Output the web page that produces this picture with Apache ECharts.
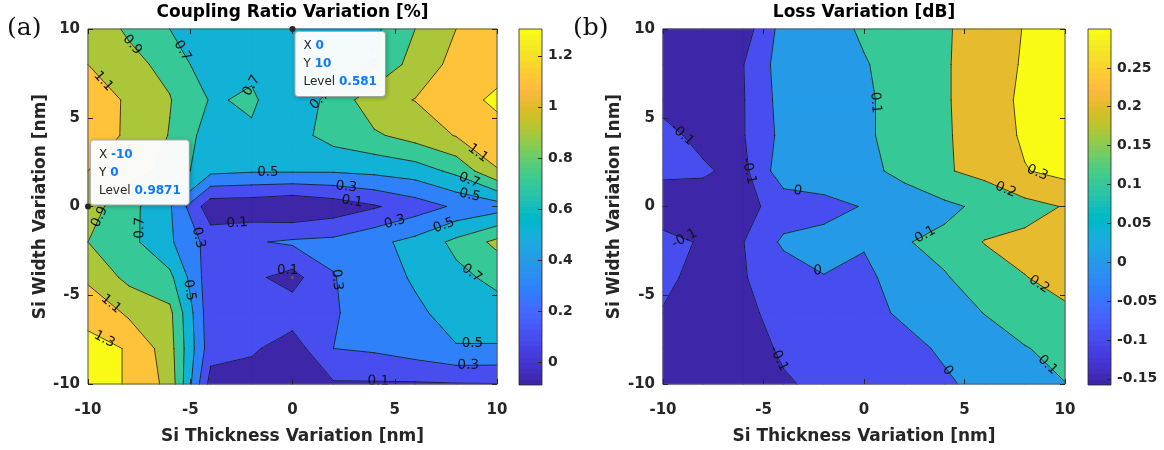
<!DOCTYPE html>
<html>
<head>
<meta charset="utf-8">
<script src="https://cdn.jsdelivr.net/npm/echarts@6.0.0/dist/echarts.min.js"></script>
<style>
html,body{margin:0;padding:0;background:#ffffff;}
#chart{width:1164px;height:450px;}
</style>
</head>
<body>
<div id="chart"></div>
<script>
// ---------------- data ----------------
const gridX = [-10,-8,-6,-4,-2,0,2,4,6,8,10];
const gridY = [10,8,6,4,2,0,-2,-4,-6,-8,-10];   // row order of the value tables

// Coupling ratio variation [%]  (rows: y = 10 ... -10, columns: x = -10 ... 10)
const couplingRatio = [
  [1.00, 0.875, 0.70, 0.62, 0.60, 0.581, 0.60, 0.66, 0.90, 1.10, 1.15],
  [1.10, 0.95, 0.85, 0.55, 0.67, 0.62, 0.62, 0.69, 1.00, 1.15, 1.29],
  [1.18, 1.08, 0.91, 0.685, 0.72, 0.60, 0.75, 1.04, 1.105, 1.29, 1.305],
  [1.17, 1.08, 0.89, 0.60, 0.68, 0.62, 0.78, 0.87, 0.98, 1.11, 1.29],
  [1.10, 0.97, 0.85, 0.55, 0.52, 0.52, 0.52, 0.55, 0.60, 0.75, 1.08],
  [0.9871, 0.77, 0.52, -0.03, -0.04, -0.09, -0.02, 0.08, 0.20, 0.33, 0.40],
  [0.90, 0.76, 0.53, 0.22, 0.28, 0.33, 0.35, 0.45, 0.56, 0.75, 0.95],
  [1.05, 0.85, 0.75, 0.17, 0.14, 0.03, 0.29, 0.42, 0.52, 0.65, 0.75],
  [1.295, 1.06, 0.95, 0.16, 0.15, 0.20, 0.28, 0.40, 0.47, 0.56, 0.62],
  [1.305, 1.299, 0.98, 0.18, 0.13, 0.00, 0.30, 0.33, 0.40, 0.49, 0.48],
  [1.305, 1.299, 1.034, 0.02, 0.00, -0.05, 0.08, 0.08, 0.08, 0.09, 0.095]
];

// Loss variation [dB]
const lossVariation = [
  [-0.15, -0.15, -0.15, 0.04, 0.07, 0.11, 0.15, 0.19, 0.24, 0.305, 0.33],
  [-0.15, -0.155, -0.102, 0.05, 0.07, 0.095, 0.13, 0.19, 0.25, 0.31, 0.33],
  [-0.12, -0.15, -0.105, 0.04, 0.07, 0.09, 0.125, 0.19, 0.25, 0.32, 0.34],
  [-0.08, -0.12, -0.105, 0.03, 0.065, 0.09, 0.125, 0.19, 0.24, 0.315, 0.34],
  [-0.09, -0.09, -0.125, 0.06, 0.06, 0.09, 0.11, 0.19, 0.23, 0.295, 0.33],
  [-0.13, -0.14, -0.13, -0.06, -0.03, 0.005, 0.08, 0.08, 0.12, 0.17, 0.205],
  [-0.085, -0.105, -0.102, 0.018, 0.03, 0.012, 0.095, 0.12, 0.205, 0.22, 0.25],
  [-0.08, -0.13, -0.105, -0.055, -0.003, -0.03, 0.06, 0.095, 0.13, 0.198, 0.22],
  [-0.105, -0.14, -0.13, -0.055, -0.04, -0.02, 0.01, 0.06, 0.102, 0.15, 0.19],
  [-0.14, -0.15, -0.14, -0.087, -0.06, -0.04, -0.02, 0.01, 0.06, 0.095, 0.13],
  [-0.15, -0.158, -0.15, -0.11, -0.08, -0.06, -0.04, -0.01, 0.02, 0.06, 0.098]
];

const couplingLevels = [0.1, 0.3, 0.5, 0.7, 0.9, 1.1, 1.3];
const lossLevels = [-0.1, 0, 0.1, 0.2, 0.3];
const couplingCLim = [-0.09, 1.305];
const lossCLim = [-0.158, 0.30];
const couplingBarTicks = [0, 0.2, 0.4, 0.6, 0.8, 1, 1.2];
const lossBarTicks = [-0.15, -0.1, -0.05, 0, 0.05, 0.1, 0.15, 0.2, 0.25];

// contour label anchors (x, y, level text)
const couplingLabels = [
  [-8.3, 8.65, '0.9'], [-5.5, 8.7, '0.7'], [-2.0, 6.85, '0.7'], [-9.3, 7.0, '1.1'],
  [-1.2, 1.9, '0.5'], [2.6, 0.8, '0.3'], [2.9, 0.2, '0.1'], [-2.7, -1.0, '0.1'],
  [5.0, -0.85, '0.3'], [7.45, -1.2, '0.5'], [8.8, -3.7, '0.7'], [8.8, -8.3, '0.5'],
  [8.6, -9.4, '0.3'], [4.2, -9.7, '0.1'], [1.6, -4.2, '0.3'], [-0.3, -3.4, '0.1'],
  [8.6, 1.35, '0.7'], [8.7, 0.8, '0.5'], [8.8, 2.6, '1.1'], [-9.5, -0.55, '0.9'],
  [-7.7, -1.2, '0.7'], [-4.8, -1.85, '0.3'], [-5.5, -4.8, '0.5'], [-9.1, -5.8, '1.1'],
  [-9.2, -7.5, '1.3'], [0.9, 6.3, '0.7'], [4.3, 8.4, '0.7']
];
const lossLabels = [
  [-9.4, 3.6, '-0.1'], [-6.2, 1.9, '-0.1'], [-3.3, 0.85, '0'], [0.45, 5.85, '0.1'],
  [7.0, 0.8, '0.2'], [8.6, 1.8, '0.3'], [-9.0, -2.0, '-0.1'], [-2.45, -3.9, '0'],
  [-4.3, -8.6, '-0.1'], [3.1, -1.7, '0.1'], [8.65, -4.5, '0.2'], [4.2, -9.2, '0'],
  [8.9, -9.2, '0.1']
];
const couplingDataTips = [[-10, 0], [0, 10]];
const couplingMarkers = [[0, -4]];

const titleA = 'Coupling Ratio Variation [%]';
const titleB = 'Loss Variation [dB]';
const xName = 'Si Thickness Variation [nm]';
const yName = 'Si Width Variation [nm]';

// ---------------- colormap (parula, 64) ----------------
const PARULA = [
[0.2422,0.1504,0.6603],[0.2504,0.1650,0.7076],[0.2578,0.1818,0.7511],[0.2647,0.1978,0.7952],
[0.2706,0.2147,0.8364],[0.2751,0.2342,0.8710],[0.2783,0.2559,0.8991],[0.2803,0.2782,0.9221],
[0.2813,0.3006,0.9414],[0.2810,0.3228,0.9579],[0.2795,0.3447,0.9717],[0.2760,0.3667,0.9829],
[0.2699,0.3892,0.9906],[0.2602,0.4123,0.9952],[0.2440,0.4358,0.9988],[0.2206,0.4603,0.9973],
[0.1963,0.4847,0.9892],[0.1834,0.5074,0.9798],[0.1786,0.5289,0.9682],[0.1764,0.5499,0.9520],
[0.1687,0.5703,0.9359],[0.1540,0.5902,0.9218],[0.1460,0.6091,0.9079],[0.1380,0.6276,0.8973],
[0.1248,0.6459,0.8883],[0.1113,0.6635,0.8763],[0.0952,0.6798,0.8598],[0.0689,0.6948,0.8394],
[0.0297,0.7082,0.8163],[0.0036,0.7203,0.7917],[0.0067,0.7312,0.7660],[0.0433,0.7411,0.7394],
[0.0964,0.7500,0.7120],[0.1408,0.7584,0.6842],[0.1717,0.7670,0.6554],[0.1938,0.7758,0.6251],
[0.2161,0.7843,0.5923],[0.2470,0.7918,0.5567],[0.2906,0.7973,0.5188],[0.3406,0.8008,0.4789],
[0.3909,0.8029,0.4354],[0.4456,0.8024,0.3909],[0.5044,0.7993,0.3480],[0.5616,0.7942,0.3045],
[0.6174,0.7876,0.2612],[0.6720,0.7793,0.2227],[0.7242,0.7698,0.1910],[0.7738,0.7598,0.1646],
[0.8203,0.7498,0.1535],[0.8634,0.7406,0.1596],[0.9035,0.7330,0.1774],[0.9393,0.7288,0.2100],
[0.9728,0.7298,0.2394],[0.9956,0.7434,0.2371],[0.9970,0.7659,0.2199],[0.9952,0.7893,0.2028],
[0.9892,0.8136,0.1885],[0.9786,0.8386,0.1766],[0.9676,0.8639,0.1643],[0.9610,0.8890,0.1537],
[0.9597,0.9135,0.1423],[0.9628,0.9373,0.1265],[0.9691,0.9606,0.1064],[0.9769,0.9839,0.0805]
];
function rgb(c){ return 'rgb(' + Math.round(c[0]*255) + ',' + Math.round(c[1]*255) + ',' + Math.round(c[2]*255) + ')'; }
function mapColor(v, clim){
  let i = Math.floor((v - clim[0]) / (clim[1] - clim[0]) * 64);
  i = Math.max(0, Math.min(63, i));
  return rgb(PARULA[i]);
}

// ---------------- contour geometry (marching squares, straight segments per cell) ----------------
function clip(poly, L, keepAbove){
  const out = [];
  for (let k = 0; k < poly.length; k++){
    const a = poly[k], b = poly[(k+1) % poly.length];
    const ina = keepAbove ? a[2] >= L : a[2] <= L;
    const inb = keepAbove ? b[2] >= L : b[2] <= L;
    if (ina) out.push(a);
    if (ina !== inb){
      const t = (L - a[2]) / (b[2] - a[2]);
      out.push([a[0] + t*(b[0]-a[0]), a[1] + t*(b[1]-a[1]), L]);
    }
  }
  return out;
}
function crossings(poly, L){
  const pts = [];
  for (let e = 0; e < poly.length; e++){
    const a = poly[e], b = poly[(e+1) % poly.length];
    if ((a[2] >= L) !== (b[2] >= L)){
      const t = (L - a[2]) / (b[2] - a[2]);
      pts.push([a[0] + t*(b[0]-a[0]), a[1] + t*(b[1]-a[1])]);
    }
  }
  return pts;
}
function buildPanel(Z, levels, clim){
  const cells = [], segs = [];
  const bandColors = [];
  for (let k = 0; k <= levels.length; k++) bandColors.push(mapColor(k === 0 ? clim[0] : levels[k-1], clim));
  for (let j = 0; j < gridY.length - 1; j++){
    for (let i = 0; i < gridX.length - 1; i++){
      const p00 = [gridX[i], gridY[j], Z[j][i]];
      const p10 = [gridX[i+1], gridY[j], Z[j][i+1]];
      const p11 = [gridX[i+1], gridY[j+1], Z[j+1][i+1]];
      const p01 = [gridX[i], gridY[j+1], Z[j+1][i]];
      const quad = [p00, p10, p11, p01];
      let saddle = false;
      levels.forEach(L => { if (crossings(quad, L).length === 4) saddle = true; });
      let pieces;
      if (saddle){
        const c = [(gridX[i]+gridX[i+1])/2, (gridY[j]+gridY[j+1])/2, (p00[2]+p10[2]+p11[2]+p01[2])/4];
        pieces = [[p00,p10,c],[p10,p11,c],[p11,p01,c],[p01,p00,c]];
      } else {
        pieces = [quad];
      }
      const fills = [], cs = [];
      pieces.forEach(piece => {
        for (let k = 0; k <= levels.length; k++){
          let poly = piece;
          if (k > 0) poly = clip(poly, levels[k-1], true);
          if (k < levels.length && poly.length) poly = clip(poly, levels[k], false);
          if (poly.length >= 3) fills.push({pts: poly, color: bandColors[k]});
        }
        levels.forEach(L => {
          const pts = crossings(piece, L);
          if (pts.length === 2){ const s = {L: L, a: pts[0], b: pts[1]}; cs.push(s); segs.push(s); }
        });
      });
      cells.push({x: (gridX[i]+gridX[i+1])/2, y: (gridY[j]+gridY[j+1])/2, fills: fills, segs: cs});
    }
  }
  return {cells: cells, segs: segs};
}
function valueAt(Z, x, y){
  return Z[gridY.indexOf(y)][gridX.indexOf(x)];
}

const panelA = buildPanel(couplingRatio, couplingLevels, couplingCLim);
const panelB = buildPanel(lossVariation, lossLevels, lossCLim);

const FONT = 'DejaVu Sans';
const TXT = '#262626';

function fillSeries(panel, xi, yi){
  return {
    type: 'custom', xAxisIndex: xi, yAxisIndex: yi, silent: true, z: 1, progressive: 0,
    data: panel.cells.map(c => [c.x, c.y]),
    renderItem: function(params, api){
      const cell = panel.cells[params.dataIndex];
      return {type: 'group', children: cell.fills.map(f => ({
        type: 'polygon',
        shape: {points: f.pts.map(p => api.coord([p[0], p[1]]))},
        style: {fill: f.color, stroke: f.color, lineWidth: 1.1, lineJoin: 'round'}
      }))};
    }
  };
}
function lineSeries(panel, xi, yi){
  return {
    type: 'custom', xAxisIndex: xi, yAxisIndex: yi, silent: true, z: 3, progressive: 0,
    data: panel.cells.map(c => [c.x, c.y]),
    renderItem: function(params, api){
      const cell = panel.cells[params.dataIndex];
      return {type: 'group', children: cell.segs.map(s => {
        const a = api.coord(s.a), b = api.coord(s.b);
        return {type: 'line', shape: {x1: a[0], y1: a[1], x2: b[0], y2: b[1]},
                style: {stroke: '#111', lineWidth: 0.8, lineCap: 'round'}};
      })};
    }
  };
}
function labelSeries(panel, labels, xi, yi){
  return {
    type: 'custom', xAxisIndex: xi, yAxisIndex: yi, silent: true, z: 4, progressive: 0,
    data: labels.map(l => [l[0], l[1]]),
    renderItem: function(params, api){
      const lab = labels[params.dataIndex];
      const L = parseFloat(lab[2]);
      const target = api.coord([lab[0], lab[1]]);
      let best = null, bd = Infinity;
      const near = [];
      panel.segs.forEach(s => {
        if (Math.abs(s.L - L) > 1e-9) return;
        const a = api.coord(s.a), b = api.coord(s.b);
        const dx = b[0]-a[0], dy = b[1]-a[1];
        const len2 = dx*dx + dy*dy;
        let t = len2 > 0 ? ((target[0]-a[0])*dx + (target[1]-a[1])*dy) / len2 : 0;
        t = Math.max(0, Math.min(1, t));
        const q = [a[0] + t*dx, a[1] + t*dy];
        const d = Math.hypot(q[0]-target[0], q[1]-target[1]);
        if (d < 10) near.push([dx, dy]);
        if (d < bd){ bd = d; best = {q: q, dx: dx, dy: dy}; }
      });
      let pos = target, ang = 0;
      if (best && bd < 25){
        pos = best.q;
        let vx = 0, vy = 0;
        near.forEach(v => { let s = (v[0]*best.dx + v[1]*best.dy) >= 0 ? 1 : -1; vx += s*v[0]; vy += s*v[1]; });
        if (vx === 0 && vy === 0){ vx = best.dx; vy = best.dy; }
        ang = Math.atan2(-vy, vx);
        if (ang > Math.PI/2) ang -= Math.PI;
        if (ang <= -Math.PI/2) ang += Math.PI;
      }
      return {type: 'text', x: pos[0], y: pos[1], rotation: ang,
              style: {text: lab[2], fill: '#111', fontSize: 13.5, fontFamily: FONT,
                      align: 'center', verticalAlign: 'middle'}};
    }
  };
}
function frameSeries(xi, yi){
  return {
    type: 'custom', xAxisIndex: xi, yAxisIndex: yi, silent: true, z: 6,
    data: [[0, 0]],
    renderItem: function(params, api){
      const p0 = api.coord([-10, -10]), p1 = api.coord([10, 10]);
      return {type: 'rect', shape: {x: p0[0], y: p1[1], width: p1[0]-p0[0], height: p0[1]-p1[1]},
              style: {fill: 'none', stroke: '#5a5a5a', lineWidth: 1}};
    }
  };
}
function colorbarSeries(xi, yi, clim){
  const stops = [];
  for (let i = 0; i < 64; i++){ const c = rgb(PARULA[i]); stops.push({offset: i/64, color: c}, {offset: (i+1)/64, color: c}); }
  return {
    type: 'custom', xAxisIndex: xi, yAxisIndex: yi, silent: true, z: 2,
    data: [[0.5, (clim[0]+clim[1])/2]],
    renderItem: function(params, api){
      const p0 = api.coord([0, clim[0]]), p1 = api.coord([1, clim[1]]);
      return {type: 'rect', shape: {x: p0[0], y: p1[1], width: p1[0]-p0[0], height: p0[1]-p1[1]},
              style: {fill: {type: 'linear', x: 0, y: 1, x2: 0, y2: 0, colorStops: stops},
                      stroke: '#262626', lineWidth: 0.8}};
    }
  };
}
function markerSeries(points, xi, yi){
  return {
    type: 'custom', xAxisIndex: xi, yAxisIndex: yi, silent: true, z: 7,
    data: points.map(p => [p[0], p[1]]),
    renderItem: function(params, api){
      const p = api.coord(points[params.dataIndex]);
      return {type: 'circle', shape: {cx: p[0], cy: p[1], r: 1.8}, style: {fill: '#555'}};
    }
  };
}
function dataTipSeries(Z, tips, xi, yi){
  return {
    type: 'custom', xAxisIndex: xi, yAxisIndex: yi, silent: true, z: 8,
    data: tips.map(t => [t[0], t[1]]),
    renderItem: function(params, api){
      const d = tips[params.dataIndex];
      const p = api.coord([d[0], d[1]]);
      const top = api.coord([0, 10])[1];
      const below = (p[1] - 70) < top;
      const txt = '{k|X }{v|' + d[0] + '}\n{k|Y }{v|' + d[1] + '}\n{k|Level }{v|' + valueAt(Z, d[0], d[1]) + '}';
      return {type: 'group', children: [
        {type: 'text', x: p[0] + 3, y: below ? p[1] + 3 : p[1] - 2, z2: 1,
         style: {text: txt, align: 'left', verticalAlign: below ? 'top' : 'bottom',
                 rich: {k: {fill: TXT, fontSize: 12, fontFamily: FONT, lineHeight: 18},
                        v: {fill: '#0a78ff', fontSize: 12, fontFamily: FONT, fontWeight: 'bold', lineHeight: 18}},
                 backgroundColor: 'rgba(255,255,255,0.96)', borderColor: '#b9b9b9', borderWidth: 1,
                 borderRadius: 3, padding: [5, 8, 5, 8],
                 shadowColor: 'rgba(0,0,0,0.22)', shadowBlur: 4, shadowOffsetX: 1, shadowOffsetY: 1}},
        {type: 'circle', shape: {cx: p[0], cy: p[1], r: 3}, style: {fill: '#262626'}, z2: 2}
      ]};
    }
  };
}

function plotXAxis(gi, pos, showLabel){
  return {gridIndex: gi, type: 'value', min: -10, max: 10, interval: 5, position: pos, z: 10,
    axisLine: {show: false, onZero: false}, splitLine: {show: false},
    axisTick: {show: true, inside: true, length: 5, lineStyle: {color: TXT, width: 1}},
    axisLabel: {show: showLabel, margin: 19, fontFamily: FONT, fontWeight: 'bold', fontSize: 15, color: TXT},
    name: showLabel ? xName : '', nameLocation: 'middle', nameGap: 44,
    nameTextStyle: {fontFamily: FONT, fontWeight: 'bold', fontSize: 17, color: TXT}};
}
function plotYAxis(gi, pos, showLabel, gap){
  return {gridIndex: gi, type: 'value', min: -10, max: 10, interval: 5, position: pos, z: 10,
    axisLine: {show: false, onZero: false}, splitLine: {show: false},
    axisTick: {show: true, inside: true, length: 5, lineStyle: {color: TXT, width: 1}},
    axisLabel: {show: showLabel, margin: 8, fontFamily: FONT, fontWeight: 'bold', fontSize: 15, color: TXT},
    name: showLabel ? yName : '', nameLocation: 'middle', nameGap: gap || 40,
    nameTextStyle: {fontFamily: FONT, fontWeight: 'bold', fontSize: 17, color: TXT}};
}
function barXAxis(gi){
  return {gridIndex: gi, type: 'value', min: 0, max: 1, show: false};
}
function barYAxis(gi, clim, ticks){
  return {gridIndex: gi, type: 'value', min: clim[0], max: clim[1], position: 'right', z: 10,
    axisLine: {show: false, onZero: false}, splitLine: {show: false},
    axisTick: {show: true, inside: true, length: 4, customValues: ticks, lineStyle: {color: TXT, width: 1}},
    axisLabel: {show: true, customValues: ticks, margin: 6, fontFamily: FONT, fontWeight: 'bold', fontSize: 14, color: TXT,
                formatter: v => String(+v.toFixed(4))}};
}

const option = {
  animation: false,
  backgroundColor: '#ffffff',
  grid: [
    {left: 88, top: 29, width: 409, height: 356},
    {left: 519, top: 29, width: 23, height: 356},
    {left: 663, top: 29, width: 402, height: 356},
    {left: 1088, top: 29, width: 23, height: 356}
  ],
  xAxis: [plotXAxis(0, 'bottom', true), plotXAxis(0, 'top', false), barXAxis(1),
          plotXAxis(2, 'bottom', true), plotXAxis(2, 'top', false), barXAxis(3)],
  yAxis: [plotYAxis(0, 'left', true, 38), plotYAxis(0, 'right', false), barYAxis(1, couplingCLim, couplingBarTicks),
          plotYAxis(2, 'left', true, 40), plotYAxis(2, 'right', false), barYAxis(3, lossCLim, lossBarTicks)],
  graphic: [
    {type: 'text', x: 292.5, y: 13, style: {text: titleA, font: 'bold 17px "DejaVu Sans"', fill: '#000', align: 'center', verticalAlign: 'middle'}},
    {type: 'text', x: 864, y: 13, style: {text: titleB, font: 'bold 17px "DejaVu Sans"', fill: '#000', align: 'center', verticalAlign: 'middle'}},
    {type: 'text', x: 7, y: 28, style: {text: '(a)', font: '25px "DejaVu Serif"', fill: '#111', align: 'left', verticalAlign: 'middle'}},
    {type: 'text', x: 573, y: 28, style: {text: '(b)', font: '25px "DejaVu Serif"', fill: '#111', align: 'left', verticalAlign: 'middle'}}
  ],
  series: [
    fillSeries(panelA, 0, 0), lineSeries(panelA, 0, 0), labelSeries(panelA, couplingLabels, 0, 0), frameSeries(0, 0),
    markerSeries(couplingMarkers, 0, 0),
    dataTipSeries(couplingRatio, couplingDataTips, 0, 0),
    colorbarSeries(2, 2, couplingCLim),
    fillSeries(panelB, 3, 3), lineSeries(panelB, 3, 3), labelSeries(panelB, lossLabels, 3, 3), frameSeries(3, 3),
    colorbarSeries(5, 5, lossCLim)
  ]
};

const chart = echarts.init(document.getElementById('chart'), null, {renderer: 'canvas'});
chart.setOption(option);
</script>
</body>
</html>
